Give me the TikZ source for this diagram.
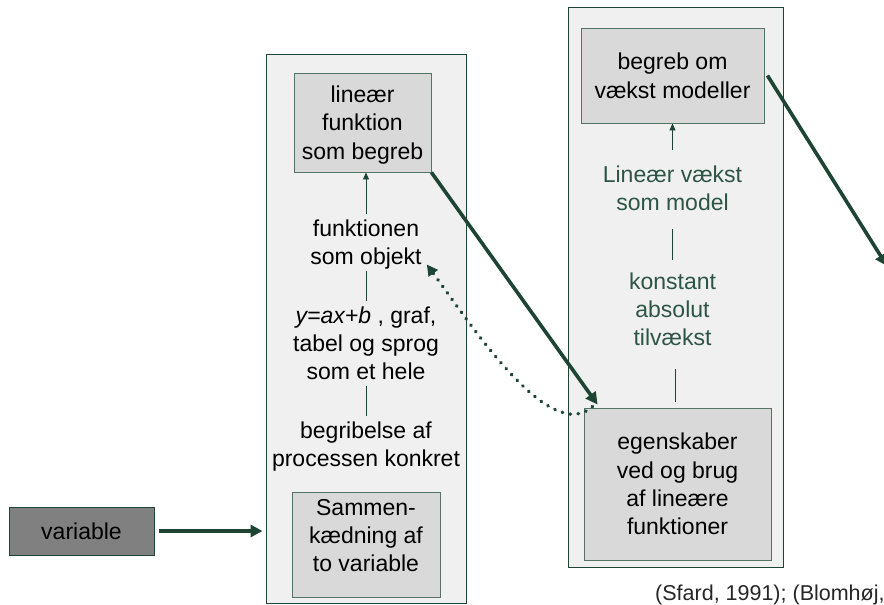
\documentclass[tikz,border=0pt]{standalone}
\usepackage{fontspec}
\setmainfont{Liberation Sans}
\usetikzlibrary{arrows.meta}
\definecolor{dkgreen}{RGB}{30,68,52}
\definecolor{txtgreen}{RGB}{45,85,70}
\definecolor{panelfill}{RGB}{240,240,240}
\definecolor{boxfill}{RGB}{217,217,217}
\definecolor{boxline}{RGB}{85,115,100}
\definecolor{varfill}{RGB}{128,128,128}
\newcommand{\ls}{\rule[-5.8pt]{0pt}{28.3pt}}
\newcommand{\lsdeep}{\rule[-25.8pt]{0pt}{48.3pt}}
\begin{document}
\begin{tikzpicture}[x=1pt,y=-1pt,
  font=\fontsize{23}{28.3}\selectfont,
  panel/.style={draw=dkgreen, line width=0.9pt, fill=panelfill, inner sep=0pt},
  gbox/.style={draw=boxline, line width=0.9pt, fill=boxfill, align=center, inner sep=0pt},
  txt/.style={align=center, inner sep=0pt, anchor=north},
  thin/.style={draw=dkgreen, line width=0.9pt},
  thinarrow/.style={thin, -{Triangle[length=7pt,width=6pt]}},
  bigarrow/.style={draw=dkgreen, line width=3.6pt, -{Triangle[length=12pt,width=12pt]}},
  dotarrow/.style={draw=dkgreen, line width=3.6pt, line cap=round, dash pattern=on 0.4pt off 7.6pt, -{Triangle[length=11pt,width=11pt]}}]
\useasboundingbox (0,0) rectangle (884,605);
\node[panel, minimum width=200pt, minimum height=549pt] (pL) at (366,328.5) {};
\node[panel, minimum width=215pt, minimum height=560pt] (pR) at (675.5,287) {};
\node[gbox, draw=dkgreen, fill=varfill, minimum width=145pt, minimum height=48pt] (var) at (81.5,531) {\ls variable};
\node[gbox, minimum width=137pt, minimum height=99pt] (topL) at (362.5,122.5) {\ls lineær\\\ls funktion\\\ls som begreb};
\node[txt] (funk) at (366,213.5) {\ls funktionen\\\ls som objekt};
\node[txt] (yax) at (366,300.5) {\ls\textit{y=ax+b} , graf,\\\ls tabel og sprog\\\ls som et hele};
\node[txt] (begr) at (366,415.5) {\ls begribelse af\\\ls processen konkret};
\node[gbox, minimum width=148pt, minimum height=96pt] (sam) at (366,545) {\ls Sammen-\\\ls kædning af\\\lsdeep to variable};
\node[gbox, minimum width=183pt, minimum height=95pt] (topR) at (672.5,75.5) {\ls begreb om\\\ls vækst modeller};
\node[txt, text=txtgreen] (lin) at (672.5,159.5) {\ls Lineær vækst\\\ls som model};
\node[txt, text=txtgreen] (konst) at (672.5,266.5) {\ls konstant\\\ls absolut\\\ls tilvækst};
\node[gbox, minimum width=187pt, minimum height=152pt] (eg) at (677.5,484) {\ls egenskaber\\\ls ved og brug\\\ls af lineære\\\ls funktioner};
\node[anchor=base west, inner sep=0pt, font=\fontsize{21.5}{25}\selectfont, text=black!85] (cite) at (655,600) {(Sfard, 1991); (Blomhøj,};
\coordinate (offR) at (887,266);
\draw[thinarrow] (funk.north) -- (funk.north |- topL.south);
\draw[thin] (funk.south) -- (yax.north);
\draw[thin] (yax.south) -- (begr.north);
\draw[thinarrow, shorten <=9.5pt] (lin.north) -- (lin.north |- topR.south);
\draw[thin, shorten <=12pt, shorten >=6.5pt] (lin.south) -- (konst.north);
\draw[thin, shorten <=17.6pt, shorten >=6pt] ([xshift=2.5pt]konst.south) -- ([xshift=2.5pt]konst.south |- eg.north);
\draw[bigarrow, shorten <=5pt, shorten >=3pt] (var.east) -- (var.east -| pL.west);
\draw[bigarrow] (topL.south east) -- ([xshift=14pt,yshift=3pt]eg.north west);
\draw[bigarrow] ([xshift=3pt]topR.east) -- (offR);
\draw[dotarrow] ([xshift=9pt,yshift=1pt]eg.north west) .. controls (550,445) and (473.8,328.8) .. ([xshift=5pt,yshift=6pt]funk.south east);
\end{tikzpicture}
\end{document}
